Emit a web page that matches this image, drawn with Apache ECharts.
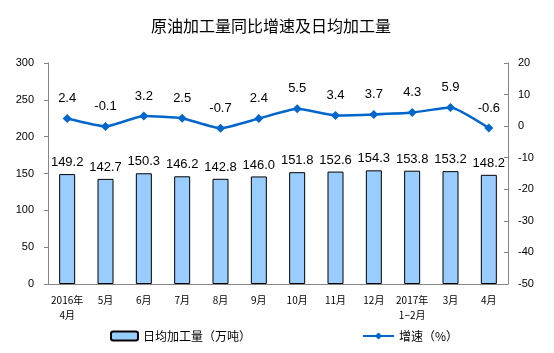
<!DOCTYPE html>
<html><head><meta charset="utf-8">
<script src="https://cdn.jsdelivr.net/npm/echarts@6/dist/echarts.min.js"></script>
<style>html,body{margin:0;padding:0;background:#fff}#c{width:554px;height:353px}</style>
</head><body><div id="c"></div>
<script>
var categories = ['2016年\n4月','5月','6月','7月','8月','9月','10月','11月','12月','2017年\n1−2月','3月','4月'];
var dailyOutput = [149.2,142.7,150.3,146.2,142.8,146.0,151.8,152.6,154.3,153.8,153.2,148.2];
var growth = [2.4,-0.1,3.2,2.5,-0.7,2.4,5.5,3.4,3.7,4.3,5.9,-0.6];
var leftTicks = {min:0,max:300,interval:50};
var rightTicks = {min:-50,max:20,interval:10};
var barName = '日均加工量（万吨）';
var lineName = '增速（%）';

var chart = echarts.init(document.getElementById('c'));
var axisColor = '#868686';
var font = 'Liberation Sans, Arial, sans-serif';
chart.setOption({
  animation:false,
  title:{text:'原油加工量同比增速及日均加工量',left:266,top:13,textAlign:'center',
    textStyle:{fontFamily:'Noto Sans CJK SC',fontSize:16,fontWeight:'normal',color:'#000'}},
  legend:[
    {data:[barName],left:105,top:325,itemWidth:27,itemHeight:9,itemGap:5,
      textStyle:{fontFamily:'Noto Sans CJK SC',fontSize:12,color:'#000'}},
    {data:[lineName],left:357,top:325,itemWidth:31,itemHeight:9,
      textStyle:{fontFamily:'Noto Sans CJK SC',fontSize:12,color:'#000'}}
  ],
  grid:{left:48,right:46,top:63,bottom:69,containLabel:false},
  xAxis:{type:'category',data:categories,
    axisLine:{lineStyle:{color:axisColor,width:1}},
    axisTick:{inside:true,length:3,lineStyle:{color:axisColor}},
    axisLabel:{fontFamily:'Noto Sans CJK SC',fontSize:10,color:'#000',margin:9,lineHeight:15,interval:0}},
  yAxis:[
    {type:'value',min:leftTicks.min,max:leftTicks.max,interval:leftTicks.interval,
      splitLine:{show:false},
      axisLine:{show:true,lineStyle:{color:axisColor}},
      axisTick:{show:true,length:4,lineStyle:{color:axisColor}},
      axisLabel:{fontFamily:font,fontSize:11,color:'#000',margin:14}},
    {type:'value',min:rightTicks.min,max:rightTicks.max,interval:rightTicks.interval,
      splitLine:{show:false},
      axisLine:{show:true,lineStyle:{color:axisColor}},
      axisTick:{show:true,inside:true,length:4,lineStyle:{color:axisColor}},
      axisLabel:{fontFamily:font,fontSize:11,color:'#000',margin:10}}
  ],
  series:[
    {name:barName,type:'bar',data:dailyOutput,yAxisIndex:0,barWidth:16,
      itemStyle:{color:'#99CCFF',borderColor:'#000',borderWidth:1},
      label:{show:true,position:'top',distance:5,fontFamily:font,fontSize:13,color:'#000',
        formatter:function(p){return p.value.toFixed(1);}}},
    {name:lineName,type:'line',data:growth,yAxisIndex:1,smooth:0.15,
      symbol:'diamond',symbolSize:9,
      lineStyle:{color:'#0066CC',width:2.5},itemStyle:{color:'#0066CC'},
      label:{show:true,position:'top',distance:9,fontFamily:font,fontSize:13,color:'#000',
        formatter:function(p){return p.value.toFixed(1);}}}
  ]
});
</script></body></html>
